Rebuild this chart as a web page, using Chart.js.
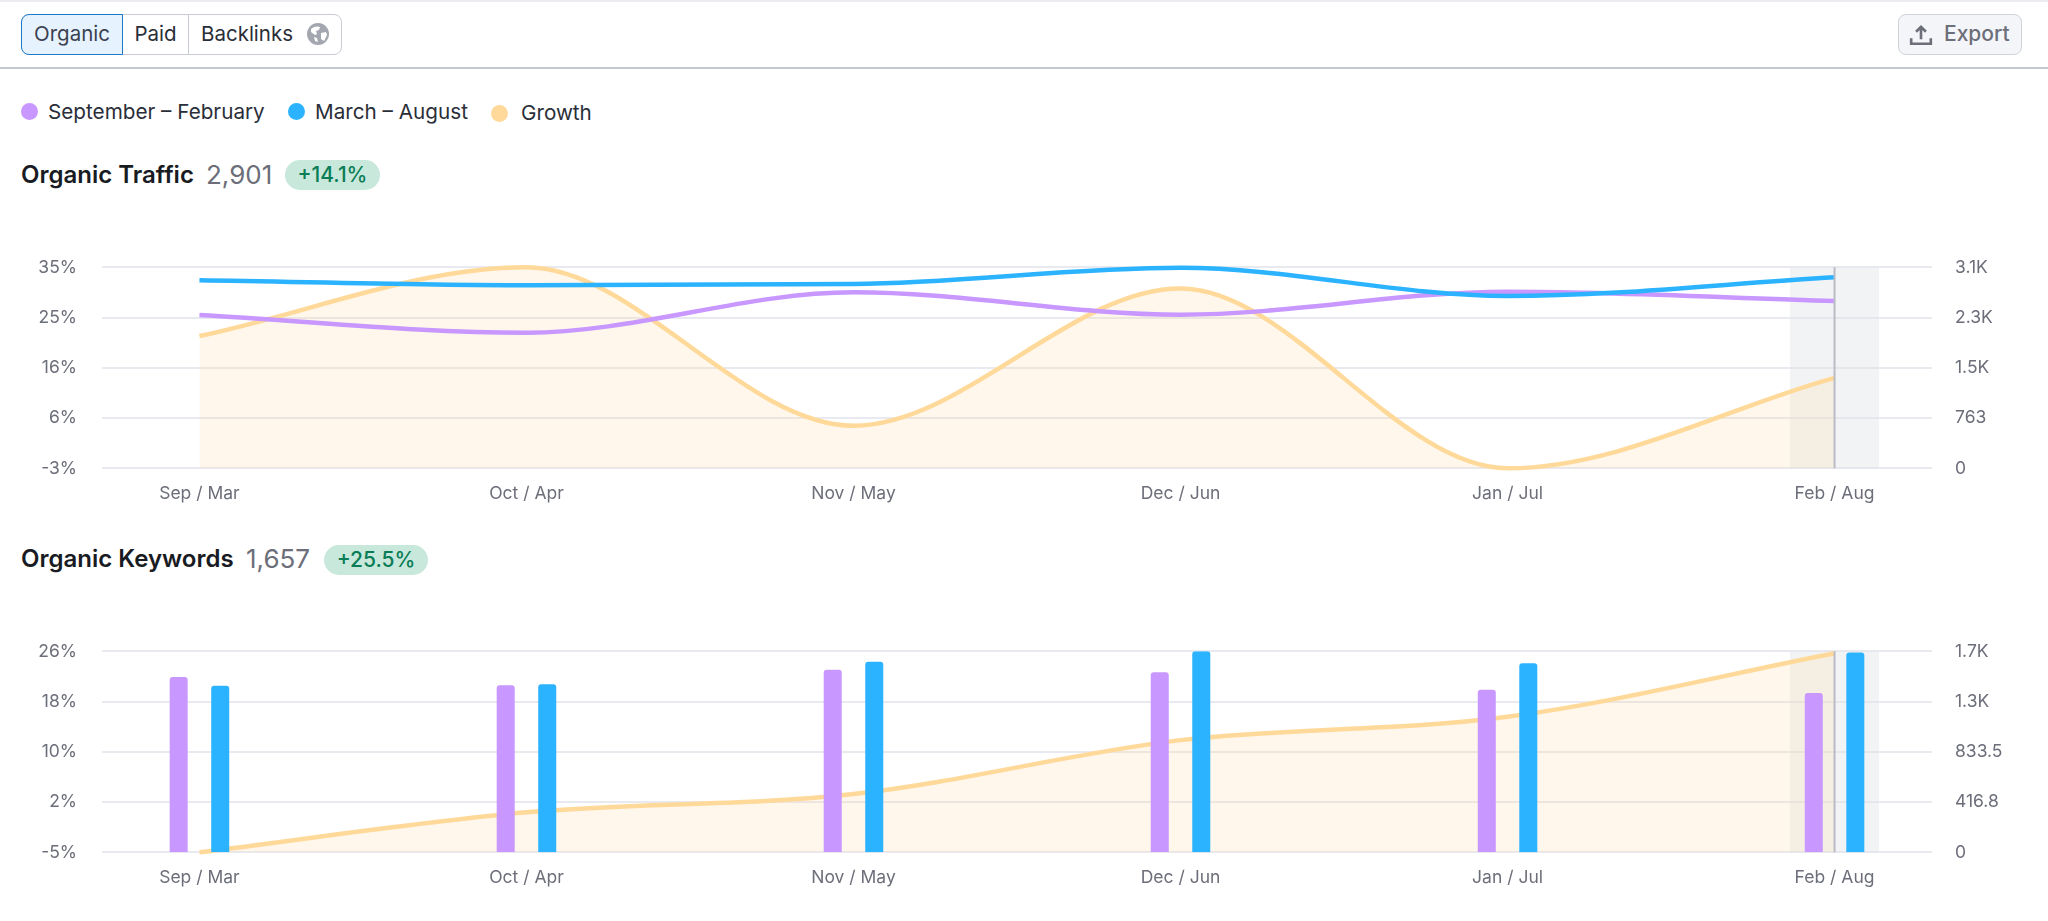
<!DOCTYPE html>
<html>
<head>
<meta charset="utf-8">
<title>Organic</title>
<script src="https://cdn.jsdelivr.net/npm/chart.js@4"></script>
<style>
  html, body { margin: 0; padding: 0; background: #fff; width: 2048px; height: 921px; overflow: hidden; font-family: Inter, sans-serif; }
  .abs { position: absolute; white-space: nowrap; }
  .topline { position: absolute; left: 0; top: 0; width: 2048px; height: 2px; background: #eceDF1; }
  .sep { position: absolute; left: 0; top: 67px; width: 2048px; height: 2px; background: #c5c8ce; }
  .tabs { position: absolute; left: 21px; top: 14px; width: 321px; height: 41px; box-sizing: border-box; border: 1px solid #c9ccd3; border-radius: 8px; }
  .tab { position: absolute; top: 14px; height: 41px; line-height: 40px; font-size: 20.5px; color: #2a2e38; text-align: center; box-sizing: border-box; }
  .tab.on { background: #e6f3ff; border: 1.5px solid #1c78c8; border-radius: 8px 0 0 8px; color: #3a4150; line-height: 38px; }
  .tab.mid { border-right: 1px solid #c9ccd3; }
  .export { position: absolute; left: 1898px; top: 14px; width: 124px; height: 41px; box-sizing: border-box; background: #f4f5f9; border: 1px solid #cfd2d9; border-radius: 8px; }
  .export span { position: absolute; left: 45px; top: 0; line-height: 38px; font-size: 21px; font-weight: 500; color: #6c6e79; }
  .dot { position: absolute; width: 17px; height: 17px; border-radius: 50%; }
  .leg { position: absolute; font-size: 20.7px; line-height: 24px; color: #2a2e38; white-space: nowrap; }
  .title { position: absolute; font-size: 24px; font-weight: 600; color: #191b23; white-space: nowrap; line-height: 30px; }
  .count { position: absolute; font-size: 26px; color: #6c6e79; white-space: nowrap; line-height: 30px; }
  .badge { position: absolute; height: 30px; line-height: 30px; border-radius: 15px; background: #c7e8db; color: #0a7d56; font-size: 21px; font-weight: 500; text-align: center; }
  canvas { position: absolute; left: 0; }
</style>
</head>
<body>
<div class="topline"></div>
<div class="tabs"></div>
<div class="tab on" style="left:21px;width:102px">Organic</div>
<div class="tab mid" style="left:123px;width:66px">Paid</div>
<div class="tab" style="left:189px;width:110px;padding-left:12px;text-align:left">Backlinks</div>
<svg class="abs" style="left:306px;top:22px" width="24" height="24" viewBox="0 0 24 24">
  <circle cx="12" cy="12" r="11" fill="#a4a7b0"/>
  <path d="M5 7c3-3 7-3 9-2l-1 3-3 1 1 3-2 1-4-3zM15 11l5-1 1 3-3 6-3-2zM8 15l3 1 1 4-3-1z" fill="#fff"/>
</svg>
<div class="export">
  <svg class="abs" style="left:10px;top:8px" width="24" height="24" viewBox="0 0 22 22">
    <path d="M11 15V4M6.5 8L11 3.5 15.5 8M2 14v5h18v-5" fill="none" stroke="#6c6e79" stroke-width="2.4"/>
  </svg>
  <span>Export</span>
</div>
<div class="sep"></div>

<div class="dot" style="left:21px;top:103px;background:#c897ff"></div>
<div class="leg" style="left:48px;top:100px">September – February</div>
<div class="dot" style="left:288px;top:103px;background:#2bb3ff"></div>
<div class="leg" style="left:315px;top:100px">March – August</div>
<div class="dot" style="left:491px;top:105px;background:#ffd999"></div>
<div class="leg" style="left:521px;top:101px">Growth</div>

<div class="title" style="left:21px;top:160px">Organic Traffic</div>
<div class="count" style="left:206px;top:160px">2,901</div>
<div class="badge" style="left:285px;top:160px;width:95px">+14.1%</div>

<div class="title" style="left:21px;top:544px">Organic Keywords</div>
<div class="count" style="left:246px;top:544px">1,657</div>
<div class="badge" style="left:324px;top:545px;width:104px">+25.5%</div>

<canvas id="trafficChart" width="2048" height="268" style="top:240px"></canvas>
<canvas id="keywordsChart" width="2048" height="268" style="top:624px"></canvas>

<script>
// ====== Data ======
const months = ["Sep / Mar", "Oct / Apr", "Nov / May", "Dec / Jun", "Jan / Jul", "Feb / Aug"];

const trafficSepFeb = [2328, 2059, 2672, 2332, 2681, 2541];
const trafficMarAug = [2855, 2779, 2798, 3045, 2616, 2901];
const trafficGrowth = [22.0, 35.0, 5.05, 31.0, -3.0, 14.1];
const trafficLeftValues = [-3, 6.5, 16, 25.5, 35];
const trafficLeftLabels = ["-3%", "6%", "16%", "25%", "35%"];
const trafficRightValues = [0, 763, 1526, 2289, 3052];
const trafficRightLabels = ["0", "763", "1.5K", "2.3K", "3.1K"];

const keywordsSepFeb = [1454, 1385, 1514, 1493, 1349, 1321];
const keywordsMarAug = [1382, 1393, 1581, 1667, 1567, 1657];
const keywordsGrowth = [-5.0, 1.17, 3.99, 12.3, 15.9, 25.7];
const keywordsLeftValues = [-5, 2.75, 10.5, 18.25, 26];
const keywordsLeftLabels = ["-5%", "2%", "10%", "18%", "26%"];
const keywordsRightValues = [0, 416.75, 833.5, 1250.25, 1667];
const keywordsRightLabels = ["0", "416.8", "833.5", "1.3K", "1.7K"];

// ====== Colors ======
const PURPLE = "#c897ff", BLUE = "#2bb3ff", ORANGE = "#ffd999";
const GROWTH_FILL = "rgba(255, 217, 153, 0.2)";
const GRID = "#e9eaf0", TICK = "#6c6e79";
const TICK_FONT = { family: "Inter", size: 17.5 };

// ====== Helpers ======
const toPoints = (values) => values.map((y, x) => ({ x, y }));

// hover band and line over the last month
const hoverBand = {
  id: "hoverBand",
  beforeDatasetsDraw(chart) {
    const x = chart.scales.x.getPixelForValue(months.length - 1);
    const { top, bottom } = chart.chartArea;
    const c = chart.ctx;
    c.save();
    c.fillStyle = "rgba(224, 227, 232, 0.42)";
    c.fillRect(x - 44.5, top, 89, bottom - top);
    c.restore();
  },
  afterDatasetsDraw(chart) {
    const x = chart.scales.x.getPixelForValue(months.length - 1);
    const { top, bottom } = chart.chartArea;
    const c = chart.ctx;
    c.save();
    c.fillStyle = "#b9bcc5";
    c.fillRect(x - 1, top, 2, bottom - top);
    c.restore();
  }
};

function yAxis(position, values, labels) {
  return {
    type: "linear",
    position,
    min: values[0],
    max: values[values.length - 1],
    afterBuildTicks: (axis) => { axis.ticks = values.map((value) => ({ value })); },
    afterFit: (axis) => {
      axis.width = position === "left" ? 102 : 116;
      axis.paddingTop = 0;
      axis.paddingBottom = 0;
    },
    border: { display: false },
    grid: { display: position === "left", color: GRID, lineWidth: 2, drawTicks: false },
    ticks: {
      color: TICK, font: TICK_FONT, padding: position === "left" ? 25 : 23, autoSkip: false,
      callback: (v, i) => labels[i]
    }
  };
}

function makeChart(id, datasets, leftValues, leftLabels, rightValues, rightLabels) {
  return new Chart(document.getElementById(id), {
    data: { datasets },
    plugins: [hoverBand],
    options: {
      responsive: false,
      animation: false,
      layout: { padding: { top: 27.3 } },
      plugins: { legend: { display: false }, tooltip: { enabled: false } },
      scales: {
        x: {
          type: "linear",
          offset: false,
          min: -0.298,
          max: 5.298,
          afterBuildTicks: (axis) => { axis.ticks = months.map((m, value) => ({ value })); },
          afterFit: (axis) => {
            axis.height = 39.7;
            axis.paddingLeft = 0;
            axis.paddingRight = 0;
          },
          border: { display: false },
          grid: { display: false },
          ticks: {
            color: TICK, font: TICK_FONT, padding: 7, maxRotation: 0, autoSkip: false,
            callback: (v, i) => months[i]
          }
        },
        y: yAxis("left", leftValues, leftLabels),
        yRight: yAxis("right", rightValues, rightLabels)
      }
    }
  });
}

function growthDataset(values) {
  return {
    type: "line", label: "Growth", data: toPoints(values), yAxisID: "y", order: 3,
    borderColor: ORANGE, borderWidth: 4.5, backgroundColor: GROWTH_FILL, fill: "start",
    cubicInterpolationMode: "monotone", pointRadius: 0, clip: false
  };
}

function lineDataset(label, values, color, order) {
  return {
    type: "line", label, data: toPoints(values), yAxisID: "yRight", order,
    borderColor: color, borderWidth: 4.5, fill: false,
    cubicInterpolationMode: "monotone", pointRadius: 0, clip: false
  };
}

function barDataset(label, values, color, order) {
  return {
    type: "bar", label, data: toPoints(values), yAxisID: "yRight", order,
    backgroundColor: color,
    categoryPercentage: 0.254, barPercentage: 0.434,
    borderRadius: { topLeft: 3, topRight: 3 }, borderSkipped: false
  };
}

// ====== Charts ======
makeChart("trafficChart", [
  lineDataset("September – February", trafficSepFeb, PURPLE, 2),
  lineDataset("March – August", trafficMarAug, BLUE, 1),
  growthDataset(trafficGrowth)
], trafficLeftValues, trafficLeftLabels, trafficRightValues, trafficRightLabels);

makeChart("keywordsChart", [
  barDataset("September – February", keywordsSepFeb, PURPLE, 1),
  barDataset("March – August", keywordsMarAug, BLUE, 1),
  growthDataset(keywordsGrowth)
], keywordsLeftValues, keywordsLeftLabels, keywordsRightValues, keywordsRightLabels);
</script>
</body>
</html>
